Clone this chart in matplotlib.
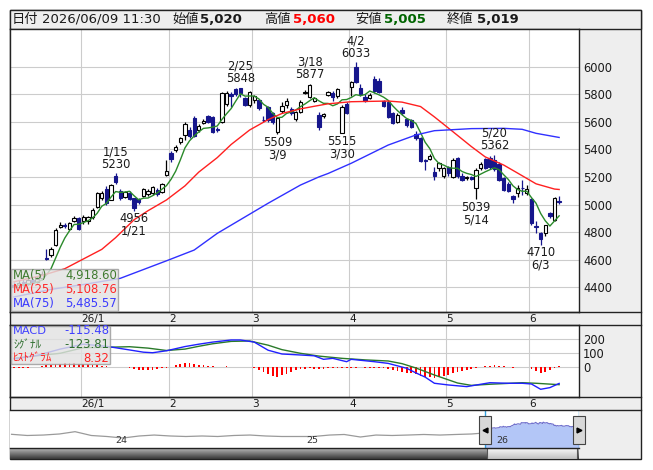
import numpy as np
import pandas as pd
import matplotlib
matplotlib.use("Agg")
import matplotlib.pyplot as plt
import matplotlib.dates as mdates
import matplotlib.transforms as mtransforms
from matplotlib.patches import Rectangle
from matplotlib.lines import Line2D

plt.rcParams['font.family'] = ['DejaVu Sans', 'Noto Sans CJK JP']

# ---------------- data ----------------
# TSE trading days shown on the chart
holidays = ['2025-12-31', '2026-01-01', '2026-01-02', '2026-01-12', '2026-02-11',
            '2026-02-23', '2026-03-20', '2026-04-29', '2026-05-04', '2026-05-05', '2026-05-06']
dates = pd.bdate_range('2025-12-10', '2026-06-09', freq='C', holidays=holidays)
last_time = '11:30'

opens = [4420, 4405, 4440, 4425, 4455, 4435, 4465, 4615, 4632, 4707, 4840, 4848, 4822, 4880, 4900,
         4878, 4880, 4907, 4985, 5045, 5115, 5035, 5205, 5095, 5057, 5083, 5045, 5040, 5062, 5075,
         5081, 5105, 5093, 5214,
         5375, 5395, 5455, 5504, 5540, 5630, 5540, 5593, 5641, 5636, 5548, 5600, 5728, 5800, 5840,
         5842, 5770, 5722,
         5760, 5755, 5615, 5705, 5660, 5525, 5680, 5722, 5695, 5617, 5673, 5810, 5781, 5750, 5650,
         5638, 5795, 5810, 5787, 5520, 5728,
         5855, 5995, 5842, 5781, 5775, 5910, 5897, 5750, 5745, 5660, 5600, 5685, 5617, 5612, 5510,
         5480, 5322, 5327, 5237, 5262, 5205,
         5270, 5200, 5335, 5210, 5192, 5200, 5117, 5262, 5330, 5340, 5320, 5295, 5190, 5150, 5065,
         5085, 5122, 5080,
         5040, 4845, 4797, 4790, 4935, 4888, 5020]
highs = [4440, 4450, 4460, 4470, 4465, 4480, 4515, 4680, 4690, 4830, 4870, 4868, 4870, 4915, 4910,
         4924, 4918, 4975, 5090, 5095, 5135, 5150, 5230, 5110, 5100, 5095, 5050, 5050, 5120, 5110,
         5135, 5120, 5155, 5322,
         5385, 5430, 5490, 5600, 5560, 5645, 5585, 5620, 5650, 5645, 5560, 5815, 5820, 5815, 5845,
         5848, 5780, 5825,
         5795, 5765, 5640, 5715, 5670, 5635, 5745, 5770, 5705, 5680, 5755, 5830, 5877, 5780, 5670,
         5665, 5820, 5820, 5845, 5720, 5740,
         5895, 6033, 5870, 5800, 5810, 5930, 5920, 5760, 5755, 5670, 5660, 5709, 5630, 5620, 5530,
         5490, 5330, 5365, 5270, 5310, 5275,
         5280, 5335, 5345, 5225, 5210, 5210, 5265, 5310, 5340, 5350, 5362, 5310, 5200, 5160, 5070,
         5140, 5175, 5140,
         5050, 4880, 4800, 4855, 4945, 5055, 5060]
lows = [4385, 4400, 4410, 4420, 4420, 4430, 4455, 4600, 4620, 4700, 4830, 4830, 4815, 4870, 4815,
        4859, 4860, 4895, 4975, 5035, 5000, 5030, 5150, 5030, 5050, 5030, 4956, 5005, 5055, 5060,
        5070, 5065, 5085, 5205,
        5310, 5380, 5440, 5470, 5480, 5490, 5525, 5580, 5590, 5520, 5525, 5590, 5715, 5710, 5790,
        5780, 5715, 5710,
        5735, 5685, 5600, 5600, 5580, 5509, 5665, 5700, 5650, 5605, 5660, 5800, 5775, 5745, 5540,
        5625, 5785, 5750, 5770, 5515, 5655,
        5790, 5880, 5790, 5745, 5765, 5810, 5805, 5705, 5625, 5580, 5590, 5650, 5565, 5555, 5470,
        5310, 5250, 5320, 5180, 5240, 5190,
        5210, 5190, 5195, 5170, 5175, 5175, 5039, 5250, 5255, 5260, 5240, 5170, 5100, 5090, 5010,
        5055, 5070, 5070,
        4855, 4790, 4710, 4770, 4905, 4880, 5005]
closes = [4400, 4432, 4420, 4450, 4430, 4460, 4500, 4605, 4676, 4815, 4850, 4842, 4864, 4905, 4825,
          4908, 4910, 4960, 5080, 5080, 5010, 5140, 5160, 5050, 5090, 5040, 4975, 5015, 5110, 5095,
          5125, 5075, 5148, 5240,
          5327, 5420, 5480, 5583, 5500, 5500, 5569, 5607, 5600, 5528, 5542, 5806, 5810, 5790, 5800,
          5806, 5722, 5815,
          5785, 5700, 5610, 5612, 5600, 5625, 5715, 5750, 5662, 5673, 5745, 5815, 5866, 5770, 5560,
          5655, 5812, 5782, 5835, 5710, 5665,
          5885, 5885, 5800, 5750, 5793, 5820, 5812, 5715, 5635, 5590, 5650, 5662, 5578, 5565, 5482,
          5318, 5312, 5350, 5206, 5299, 5262,
          5228, 5320, 5205, 5180, 5196, 5185, 5250, 5290, 5265, 5270, 5255, 5180, 5108, 5095, 5040,
          5120, 5117, 5110,
          4865, 4835, 4750, 4850, 4920, 5050, 5019]

# moving averages
ma25_dates = ['2025-12-10', '2025-12-18', '2025-12-25', '2026-01-09', '2026-01-15', '2026-01-21',
              '2026-01-26', '2026-01-30', '2026-02-05', '2026-02-10', '2026-02-17', '2026-02-20',
              '2026-02-27', '2026-03-05', '2026-03-10', '2026-03-16', '2026-03-19', '2026-03-25',
              '2026-04-01', '2026-04-13', '2026-04-16', '2026-04-22', '2026-04-27', '2026-05-07',
              '2026-05-13', '2026-05-18', '2026-05-22', '2026-05-27', '2026-06-02', '2026-06-08',
              '2026-06-09']
ma25_vals = [4440, 4485, 4535, 4675, 4760, 4890, 4955, 5033, 5135, 5235, 5340, 5435, 5540, 5615,
             5660, 5693, 5712, 5730, 5745, 5750, 5742, 5710, 5635, 5528, 5420, 5345, 5286, 5228,
             5150, 5112, 5109]
ma75_dates = ['2025-12-10', '2025-12-22', '2026-01-05', '2026-01-16', '2026-01-30', '2026-02-09',
              '2026-02-17', '2026-03-05', '2026-03-16', '2026-03-23', '2026-03-25', '2026-04-01',
              '2026-04-13', '2026-04-21', '2026-04-27', '2026-05-13', '2026-05-22', '2026-05-28',
              '2026-06-02', '2026-06-09']
ma75_vals = [4330, 4385, 4420, 4465, 4592, 4670, 4791, 5009, 5141, 5200, 5225, 5299, 5431, 5504,
             5535, 5550, 5552, 5545, 5516, 5486]
ma_labels = ['MA(5)', 'MA(25)', 'MA(75)']
ma_legend = ['4,918.60', '5,108.76', '5,485.57']

# MACD panel
macd_dates = ['2025-12-10', '2025-12-17', '2025-12-24', '2026-01-05', '2026-01-13', '2026-01-20',
              '2026-01-23', '2026-01-27', '2026-01-30', '2026-02-05', '2026-02-10', '2026-02-16',
              '2026-02-20', '2026-02-25', '2026-03-02', '2026-03-05', '2026-03-10', '2026-03-16',
              '2026-03-19', '2026-03-24', '2026-03-26', '2026-03-31', '2026-04-01', '2026-04-08',
              '2026-04-13', '2026-04-17', '2026-04-21', '2026-04-23', '2026-04-27', '2026-05-01',
              '2026-05-12', '2026-05-19', '2026-05-25', '2026-05-28', '2026-06-01', '2026-06-03',
              '2026-06-05', '2026-06-09']
macd_vals = [60, 85, 130, 165, 150, 124, 108, 104, 118, 148, 165, 180, 195, 195, 180, 122, 95, 88,
             82, 57, 64, 40, 57, 40, 28, -7, -40, -70, -114, -126, -138, -110, -114, -114, -119,
             -157, -145, -115]
signal_dates = ['2025-12-10', '2025-12-24', '2026-01-05', '2026-01-13', '2026-01-20', '2026-01-26',
                '2026-01-30', '2026-02-05', '2026-02-10', '2026-02-16', '2026-02-20', '2026-02-27',
                '2026-03-05', '2026-03-10', '2026-03-16', '2026-03-23', '2026-03-30', '2026-04-06',
                '2026-04-13', '2026-04-16', '2026-04-21', '2026-04-27', '2026-05-08', '2026-05-13',
                '2026-05-19', '2026-05-28', '2026-06-02', '2026-06-09']
signal_vals = [65, 100, 140, 143, 147, 137, 120, 130, 150, 168, 185, 188, 158, 126, 100, 80, 64, 53,
               45, 26, -5, -55, -112, -129, -121, -110, -114, -124]
hist_vals = [-5, -4, -3, -2, 2, 5, 10, 15, 20, 24, 27, 29, 30, 29, 27,
             25, 22, 18, 14, 10, 6, 4, 3, 2, 1, -2, -10, -18, -22, -20, -16, -12, -8, -3,
             5, 14, 24, 32, 30, 26, 20, 15, 10, 6, 4, 5, 6, 5, 4, 3, 2, 1,
             -8, -20, -35, -48, -60, -66, -58, -45, -32, -22, -15, -10, -8, -10, -12, -10, -8, -6,
             -5, -7, -8,
             -4, -2, -1, -3, -4, -3, -4, -8, -15, -22, -28, -32, -38, -42, -48, -60, -68, -72, -75,
             -70, -62,
             -52, -42, -32, -25, -18, -12, -6, 2, 8, 12, 16, 12, 6, 2, -3, 4, 3, 1,
             -12, -25, -38, -35, -22, -6, 8]
macd_labels = ['MACD', 'ｼｸﾞﾅﾙ', 'ﾋｽﾄｸﾞﾗﾑ']
macd_legend = ['-115.48', '-123.81', '8.32']

# marked highs / lows
peaks = [('2026-01-15', 'high'), ('2026-01-21', 'low'), ('2026-02-25', 'high'),
         ('2026-03-09', 'low'), ('2026-03-18', 'high'), ('2026-03-30', 'low'),
         ('2026-04-02', 'high'), ('2026-05-14', 'low'), ('2026-05-20', 'high'),
         ('2026-06-03', 'low')]

# long-term history for the navigator (monthly)
nav_dates = ['2023-06-15', '2023-07-15', '2023-08-15', '2023-09-15', '2023-10-15', '2023-11-15',
             '2023-12-15', '2024-01-15', '2024-02-15', '2024-03-15', '2024-04-15', '2024-05-15',
             '2024-06-15', '2024-07-15', '2024-08-15', '2024-09-15', '2024-10-15', '2024-11-15',
             '2024-12-15', '2025-01-15', '2025-02-15', '2025-03-15', '2025-04-15', '2025-05-15',
             '2025-06-15', '2025-07-15', '2025-08-15', '2025-09-15', '2025-10-15', '2025-11-15',
             '2025-12-01']
nav_vals = [3730, 3520, 3600, 3790, 4200, 3520, 3340, 3070, 3430, 3600, 3430, 3340, 3430, 3340,
            3520, 3600, 3430, 3340, 3340, 3340, 3600, 3700, 3250, 3600, 3520, 3600, 3700, 3600,
            3700, 3790, 3910]

# ---------------- layout helpers ----------------
W, H = 653, 470
fig = plt.figure(figsize=(W / 100, H / 100), dpi=100)
fig.patch.set_facecolor('white')
TXT = '#1a1a1a'


def box(x0, y0, x1, y1):
    return [x0 / W, 1 - y1 / H, (x1 - x0) / W, (y1 - y0) / H]


def fline(xs, ys, color='#222222', lw=1.0):
    fig.add_artist(Line2D([v / W for v in xs], [1 - v / H for v in ys],
                          transform=fig.transFigure, color=color, lw=lw, zorder=1))


def frect(x0, y0, x1, y1, **kw):
    r = Rectangle((x0 / W, 1 - y1 / H), (x1 - x0) / W, (y1 - y0) / H,
                  transform=fig.transFigure, **kw)
    fig.add_artist(r)
    return r


def ftext(x, y, s, **kw):
    fig.text(x / W, 1 - y / H, s, va='center', **kw)


# outer frame and header
frect(10, 10, 641, 459, fc='#eeeeee', ec='#222222', lw=1, zorder=-5)
frect(10, 10, 641, 29, fc='#eeeeee', ec='#222222', lw=1, zorder=-4)
for yy in (312, 325, 397, 410):
    fline([10, 641], [yy, yy])

n = len(dates)
x = np.arange(n)
o, h, l, c = (np.array(v, dtype=float) for v in (opens, highs, lows, closes))
assert len(opens) == n and len(hist_vals) == n

# month boundaries for grid and date strips
mstart = [i for i in range(1, n) if dates[i].month != dates[i - 1].month]
mlabels = [f"{dates[i].year % 100}/{dates[i].month}" if dates[i].month == 1 else f"{dates[i].month}"
           for i in mstart]
mticks = np.array(mstart) - 0.5


def style_panel(a):
    a.set_xlim(-0.87, 122.3)
    a.set_axisbelow(True)
    a.grid(True, color='#cccccc', lw=0.8)
    a.set_xticks(mticks)
    a.set_xticklabels(mlabels, ha='left')
    a.yaxis.tick_right()
    a.tick_params(axis='x', length=0, pad=1.2, labelsize=7.6, labelcolor=TXT)
    a.tick_params(axis='y', length=0, pad=3, labelsize=8.3, labelcolor=TXT)
    for s in a.spines.values():
        s.set_color('#222222')
        s.set_linewidth(1)


# ---------------- price panel ----------------
ax = fig.add_axes(box(10, 29, 579, 312))
ax.set_ylim(4221, 6272)
ax.set_yticks(range(4400, 6001, 200))
style_panel(ax)

up = c >= o
navy = '#16168c'
edge = np.where(up, '#000000', navy)
ax.vlines(x, l, h, colors=edge, lw=0.9, zorder=3)
ax.bar(x, np.maximum(np.abs(c - o), 6), bottom=np.minimum(o, c), width=0.72,
       color=np.where(up, 'white', navy), edgecolor=edge, linewidth=0.8, zorder=4)

ma5 = pd.Series(c).rolling(5, min_periods=1).mean()
ax.plot(x, ma5, color='#2a8a2a', lw=1, zorder=5)
p25 = dates.get_indexer(pd.to_datetime(ma25_dates))
ax.plot(p25, ma25_vals, color='#ff2020', lw=1, zorder=5)
p75 = dates.get_indexer(pd.to_datetime(ma75_dates))
ax.plot(p75, ma75_vals, color='#3030ff', lw=1, zorder=5)

for d, kind in peaks:
    i = dates.get_loc(pd.Timestamp(d))
    md = f"{dates[i].month}/{dates[i].day}"
    if kind == 'high':
        ax.annotate(f"{md}\n{int(h[i])}", (i, h[i]), xytext=(0, 1.5), textcoords='offset points',
                    ha='center', va='bottom', fontsize=8.3, color=TXT, linespacing=0.95, zorder=6)
    else:
        ax.annotate(f"{int(l[i])}\n{md}", (i, l[i]), xytext=(0, -1), textcoords='offset points',
                    ha='center', va='top', fontsize=8.3, color=TXT, linespacing=0.95, zorder=6)

# ---------------- MACD panel ----------------
ax2 = fig.add_axes(box(10, 325, 579, 397))
ax2.set_ylim(-212, 302)
ax2.set_yticks([0, 100, 200])
style_panel(ax2)
ax2.bar(x, hist_vals, width=0.38, color='#ff0000', zorder=3)
ax2.plot(dates.get_indexer(pd.to_datetime(signal_dates)), signal_vals, color='#2a7a2a', lw=1, zorder=4)
ax2.plot(dates.get_indexer(pd.to_datetime(macd_dates)), macd_vals, color='#2020ff', lw=1, zorder=4)

# ---------------- legends ----------------
frect(11, 269, 118, 311, fc='#e2e2e2', ec='#9a9a9a', lw=1, alpha=0.82, zorder=2)
ma_cols = ['#3f7a2f', '#ff2a2a', '#3a3aff']
for k in range(3):
    yy = 276 + 14 * k
    ftext(13, yy, ma_labels[k], color=ma_cols[k], fontsize=8.4, zorder=3)
    ftext(117, yy, ma_legend[k], color=ma_cols[k], fontsize=8.4, ha='right', zorder=3)

frect(11, 326, 110, 364, fc='#e2e2e2', ec='#9a9a9a', lw=1, alpha=0.82, zorder=2)
mc_cols = ['#4040ff', '#2f6f2f', '#ff2020']
for k in range(3):
    yy = 331 + 13.7 * k
    ftext(13, yy, macd_labels[k], color=mc_cols[k], fontsize=8.2, zorder=3)
    ftext(109, yy, macd_legend[k], color=mc_cols[k], fontsize=8.4, ha='right', zorder=3)

# ---------------- header ----------------
def fmt(v):
    return f"{int(v):,}"


hdr = [(12, '日付', TXT, 'normal'),
       (42, dates[-1].strftime('%Y/%m/%d') + ' ' + last_time, TXT, 'normal'),
       (172, '始値', TXT, 'normal'), (200, fmt(o[-1]), TXT, 'bold'),
       (264, '高値', TXT, 'normal'), (293, fmt(h[-1]), '#ff0000', 'bold'),
       (355, '安値', TXT, 'normal'), (384, fmt(l[-1]), '#006400', 'bold'),
       (447, '終値', TXT, 'normal'), (477, fmt(c[-1]), TXT, 'bold')]
for xx, s, col, wt in hdr:
    ftext(xx, 19.5, s, color=col, fontweight=wt, fontsize=9.5)

# ---------------- navigator ----------------
nav = fig.add_axes(box(10, 410, 579, 448))
t_end = mdates.date2num(pd.Timestamp('2026-06-09'))
nav.set_xlim(t_end - 1093, t_end)
nav.set_ylim(1286, 8071)
nav.set_xticks([])
nav.set_yticks([])
for s in nav.spines.values():
    s.set_visible(False)

hx = mdates.date2num(pd.to_datetime(nav_dates))
nav.plot(hx, nav_vals, color='#9a9a9a', lw=0.9)
tx = mdates.date2num(dates)
nav.fill_between(tx, c, 1286, color='#b3c6f7', lw=0)
nav.plot(tx, c, color='#6f6fcc', lw=0.8)
for yr in (2024, 2025, 2026):
    nav.text(mdates.date2num(pd.Timestamp(f'{yr}-01-01')), 0.2, f'{yr % 100}',
             transform=mtransforms.blended_transform_factory(nav.transData, nav.transAxes),
             ha='left', va='center', fontsize=6.8, color='#333333')

blend = mtransforms.blended_transform_factory(nav.transData, nav.transAxes)
hw = 11.5
for t, mk in ((tx[0], '<'), (tx[-1], '>')):
    nav.axvline(t, color='#33a0dd', lw=1, zorder=4)
    nav.add_patch(Rectangle((t - hw, 0.1), 2 * hw, 0.74, transform=blend, fc='#d8d8d8',
                            ec='#444444', lw=0.8, zorder=5, clip_on=False))
    nav.plot([t], [0.47], marker=mk, ms=3.5, color='black', transform=blend, zorder=6,
             clip_on=False)

# scrollbar
sc = fig.add_axes(box(10, 448, 579, 459))
sc.set_xlim(t_end - 1093, t_end)
sc.set_ylim(0, 1)
sc.axis('off')
g = np.linspace(0, 1, 24)[:, None]
dark = np.dstack([0.72 - 0.5 * g] * 3)
light = np.dstack([0.98 - 0.22 * g] * 3)
sc.imshow(dark, extent=[t_end - 1093, tx[0] + 0.4 * hw, 0, 1], aspect='auto')
sc.imshow(light, extent=[tx[0] + 0.4 * hw, tx[-1] - 0.3 * hw, 0, 1], aspect='auto')
sc.imshow(dark, extent=[tx[-1] - 0.3 * hw, t_end, 0, 1], aspect='auto')
sc.add_patch(Rectangle((tx[0] + 0.4 * hw, 0), tx[-1] - tx[0] - 0.7 * hw, 1, fc='none',
                       ec='#555555', lw=0.8))
sc.set_xlim(t_end - 1093, t_end)
sc.set_ylim(0, 1)
fline([10, 579], [448, 448])

fig.savefig('out.png', dpi=100)
